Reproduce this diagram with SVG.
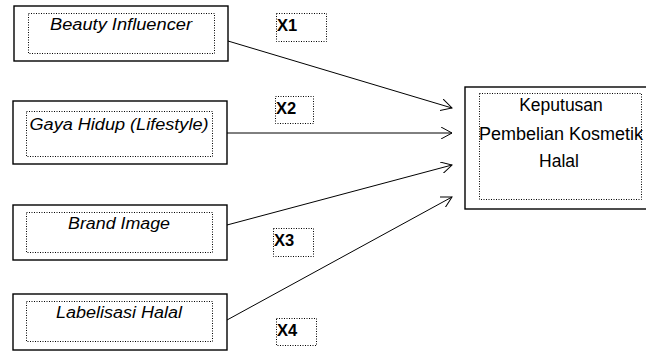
<svg xmlns="http://www.w3.org/2000/svg" width="646" height="351" viewBox="0 0 646 351">
<style>
.outer{fill:#fff;stroke:#000;stroke-width:1.4}
.inner{fill:none;stroke:#000;stroke-width:1;stroke-dasharray:1 1.5}
.lbl{font-family:"Liberation Sans",Arial,sans-serif;font-style:italic;font-size:16px;fill:#000;text-anchor:middle}
.tgt{font-family:"Liberation Sans",Arial,sans-serif;font-size:17.5px;fill:#000;text-anchor:middle}
.x{font-family:"Liberation Sans",Arial,sans-serif;font-weight:bold;font-size:16.5px;fill:#000}
.edge{stroke:#000;stroke-width:1;fill:none;marker-end:url(#arr)}
</style>
<defs>
<marker id="arr" viewBox="0 0 12 12" refX="11" refY="6" markerWidth="12" markerHeight="12" markerUnits="userSpaceOnUse" orient="auto">
<path d="M0,0 L11,6 L0,12" fill="none" stroke="#000" stroke-width="1"/>
</marker>
</defs>
<rect width="646" height="351" fill="#fff"/>
<g id="connectors">
<line class="edge" x1="228" y1="41" x2="452" y2="108"/>
<line class="edge" x1="227" y1="133" x2="452" y2="133"/>
<line class="edge" x1="227" y1="225" x2="452" y2="165"/>
<line class="edge" x1="227" y1="320" x2="452" y2="197"/>
</g>
<g id="n1">
<rect class="outer" x="14" y="6" width="214" height="55"/>
<rect class="inner" x="28.5" y="13.5" width="186" height="40"/>
<text class="lbl" x="121" y="30" textLength="142" lengthAdjust="spacingAndGlyphs">Beauty Influencer</text>
</g>
<g id="n2">
<rect class="outer" x="13" y="101" width="214" height="63"/>
<rect class="inner" x="26.5" y="111.5" width="186" height="45"/>
<text class="lbl" x="119" y="130" textLength="179" lengthAdjust="spacingAndGlyphs">Gaya Hidup (Lifestyle)</text>
</g>
<g id="n3">
<rect class="outer" x="13" y="205" width="214" height="55"/>
<rect class="inner" x="26.5" y="212.5" width="186" height="40"/>
<text class="lbl" x="119" y="229" textLength="102" lengthAdjust="spacingAndGlyphs">Brand Image</text>
</g>
<g id="n4">
<rect class="outer" x="13" y="294" width="214" height="56"/>
<rect class="inner" x="26.5" y="301.5" width="186" height="40"/>
<text class="lbl" x="119" y="318" textLength="126" lengthAdjust="spacingAndGlyphs">Labelisasi Halal</text>
</g>
<g id="target">
<rect class="outer" x="465" y="87" width="182" height="122"/>
<rect class="inner" x="479.5" y="93.5" width="162" height="106"/>
<text class="tgt" x="561" y="111">Keputusan</text>
<text class="tgt" x="561" y="140" textLength="164" lengthAdjust="spacingAndGlyphs">Pembelian Kosmetik</text>
<text class="tgt" x="559" y="167">Halal</text>
</g>
<g id="x1"><rect class="inner" x="276.5" y="13.5" width="50" height="28"/><text class="x" x="277" y="31">X1</text></g>
<g id="x2"><rect class="inner" x="275.5" y="96.5" width="38" height="27"/><text class="x" x="276" y="114">X2</text></g>
<g id="x3"><rect class="inner" x="273.5" y="228.5" width="40" height="28"/><text class="x" x="274" y="246">X3</text></g>
<g id="x4"><rect class="inner" x="276.5" y="318.5" width="40" height="27"/><text class="x" x="277" y="336">X4</text></g>
</svg>
